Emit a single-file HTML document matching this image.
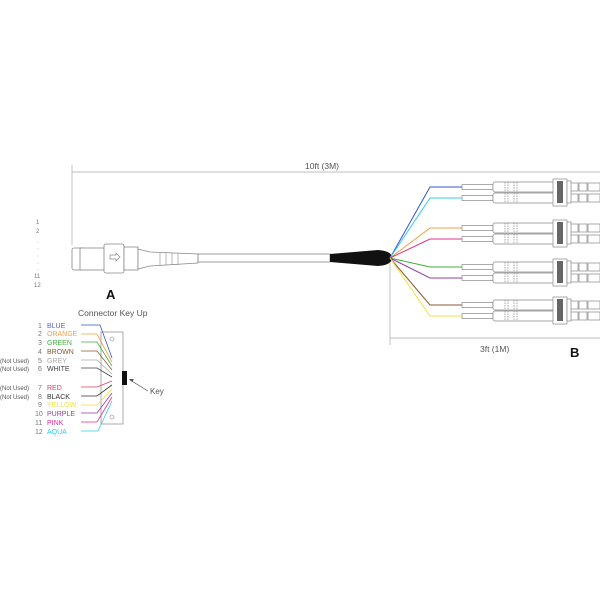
<!DOCTYPE html>
<html><head><style>body{margin:0;background:#fff}svg{display:block}text{font-family:"Liberation Sans",sans-serif}</style></head>
<body>
<svg width="600" height="600" viewBox="0 0 600 600" xmlns="http://www.w3.org/2000/svg">
<defs>
<g id="lc" fill="#fff" stroke="#888" stroke-width="0.7">
  <rect x="462" y="-2.5" width="31" height="5"/>
  <rect x="493" y="-5" width="62" height="10" rx="2"/>
  <line x1="505" y1="-5" x2="505" y2="5" stroke-dasharray="1.5,1"/>
  <line x1="508" y1="-5" x2="508" y2="5" stroke-dasharray="1.5,1"/>
  <line x1="514" y1="-5" x2="514" y2="5" stroke-dasharray="1.5,1"/>
  <line x1="517" y1="-5" x2="517" y2="5" stroke-dasharray="1.5,1"/>
  <rect x="570" y="-4" width="8" height="8"/>
  <rect x="579" y="-4" width="8" height="8"/>
  <rect x="588" y="-4" width="12" height="8"/>
</g>
<g id="pair">
  <use href="#lc" y="0"/>
  <use href="#lc" y="11"/>
  <rect x="553" y="-8" width="14" height="27" fill="#fff" stroke="#888" stroke-width="0.7"/>
  <rect x="557" y="-6" width="6" height="22" fill="#666"/>
  <rect x="567" y="-6" width="4" height="22" fill="#fff" stroke="#888" stroke-width="0.7"/>
</g>
</defs>
<!-- dimension 10ft -->
<line x1="72" y1="172" x2="600" y2="172" stroke="#aaa" stroke-width="0.7"/>
<line x1="72" y1="165" x2="72" y2="245" stroke="#aaa" stroke-width="0.7"/>
<text x="305" y="169" font-size="8.5" fill="#555">10ft (3M)</text>
<!-- connector A -->
<g fill="#fff" stroke="#888" stroke-width="0.8">
<rect x="72" y="248" width="12" height="22" rx="2"/>
<rect x="80" y="248" width="25" height="22"/>
<rect x="104" y="244" width="20" height="29" rx="2"/>
<rect x="124" y="247" width="14" height="23"/>
<path d="M138 249 L150 252 L198 254 L198 263 L150 266 L138 269Z"/>
<rect x="198" y="254" width="132" height="8"/>
</g>
<path d="M110 255 h6 v-2 l4 4 l-4 4 v-2 h-6z" fill="none" stroke="#888" stroke-width="0.7"/>
<g stroke="#888" stroke-width="0.6"><line x1="160" y1="253" x2="160" y2="265"/><line x1="166" y1="253" x2="166" y2="265"/><line x1="172" y1="253" x2="172" y2="265"/><line x1="178" y1="253" x2="178" y2="265"/></g>
<path d="M330 254 L378 250 Q392 251 392 258 Q392 265 378 266 L330 262Z" fill="#111"/>
<!-- fibers -->
<g fill="none" stroke-width="1">
<polyline points="390,258 430,187 462,187" stroke="#3355cc"/>
<polyline points="390,258 430,198 462,198" stroke="#33ccee"/>
<polyline points="390,258 430,228 462,228" stroke="#f0a040"/>
<polyline points="390,258 430,239 462,239" stroke="#e03090"/>
<polyline points="390,258 430,267 462,267" stroke="#40b040"/>
<polyline points="390,258 430,278 462,278" stroke="#9040a0"/>
<polyline points="390,258 430,305 462,305" stroke="#8a5a30"/>
<polyline points="390,258 430,316 462,316" stroke="#f0e040"/>
</g>
<use href="#pair" y="187"/>
<use href="#pair" y="228"/>
<use href="#pair" y="267"/>
<use href="#pair" y="305"/>
<!-- 3ft dim -->
<line x1="390" y1="262" x2="390" y2="345" stroke="#aaa" stroke-width="0.7"/>
<line x1="390" y1="338" x2="600" y2="338" stroke="#aaa" stroke-width="0.7"/>
<text x="480" y="352" font-size="8.5" fill="#555">3ft (1M)</text>
<text x="570" y="357" font-size="13" font-weight="bold" fill="#111">B</text>
<!-- left numbers -->
<g font-size="6" fill="#777"><text x="36" y="224">1</text><text x="36" y="233">2</text><text x="34" y="278">11</text><text x="34" y="287">12</text></g>
<g fill="#bbb"><circle cx="38" cy="242" r="0.5"/><circle cx="38" cy="249" r="0.5"/><circle cx="38" cy="256" r="0.5"/><circle cx="38" cy="263" r="0.5"/><circle cx="38" cy="270" r="0.5"/></g>
<text x="106" y="299" font-size="13" font-weight="bold" fill="#111">A</text>
<!-- key up -->
<text x="78" y="316" font-size="8.5" fill="#555">Connector Key Up</text>
<rect x="101" y="332" width="22" height="92" fill="#fff" stroke="#888" stroke-width="0.7"/>
<circle cx="112" cy="339" r="2" fill="none" stroke="#888" stroke-width="0.6"/>
<circle cx="112" cy="417" r="2" fill="none" stroke="#888" stroke-width="0.6"/>
<rect x="122" y="371" width="5" height="14" fill="#111"/>
<line x1="148" y1="391" x2="130" y2="380" stroke="#555" stroke-width="0.7"/>
<path d="M129 379 l5 0 l-2 3z" fill="#555"/>
<text x="150" y="394" font-size="8" fill="#555">Key</text>
<g font-size="7">
<text x="38" y="328" fill="#777">1</text><text x="47" y="328" fill="#5566cc">BLUE</text>
<text x="38" y="336" fill="#777">2</text><text x="47" y="336" fill="#f0a040">ORANGE</text>
<text x="38" y="345" fill="#777">3</text><text x="47" y="345" fill="#40b040">GREEN</text>
<text x="38" y="354" fill="#777">4</text><text x="47" y="354" fill="#8a5a30">BROWN</text>
<text x="0" y="363" fill="#555" font-size="6">(Not Used)</text><text x="38" y="363" fill="#777">5</text><text x="47" y="363" fill="#aaa">GREY</text>
<text x="0" y="371" fill="#555" font-size="6">(Not Used)</text><text x="38" y="371" fill="#777">6</text><text x="47" y="371" fill="#444">WHITE</text>
<text x="0" y="390" fill="#555" font-size="6">(Not Used)</text><text x="38" y="390" fill="#777">7</text><text x="47" y="390" fill="#e04060">RED</text>
<text x="0" y="399" fill="#555" font-size="6">(Not Used)</text><text x="38" y="399" fill="#777">8</text><text x="47" y="399" fill="#333">BLACK</text>
<text x="38" y="407" fill="#777">9</text><text x="47" y="407" fill="#f0e040">YELLOW</text>
<text x="35" y="416" fill="#777">10</text><text x="47" y="416" fill="#9040a0">PURPLE</text>
<text x="35" y="425" fill="#777">11</text><text x="47" y="425" fill="#e03090">PINK</text>
<text x="35" y="434" fill="#777">12</text><text x="47" y="434" fill="#33ccee">AQUA</text>
</g>
<g fill="none" stroke-width="0.8">
<polyline points="81,325 100,325 112,358" stroke="#3355cc"/>
<polyline points="81,334 97,334 112,362" stroke="#f0a040"/>
<polyline points="81,342 97,342 112,366" stroke="#40b040"/>
<polyline points="81,351 97,351 112,370" stroke="#8a5a30"/>
<polyline points="81,360 97,360 112,374" stroke="#aaa"/>
<polyline points="81,368 97,368 112,377" stroke="#444"/>
<polyline points="81,387 97,387 112,381" stroke="#e04060"/>
<polyline points="81,396 97,396 112,385" stroke="#333"/>
<polyline points="81,405 97,405 112,389" stroke="#f0e040"/>
<polyline points="81,413 97,413 112,393" stroke="#9040a0"/>
<polyline points="81,422 97,422 112,397" stroke="#e03090"/>
<polyline points="81,431 98,431 112,401" stroke="#33ccee"/>
</g>
</svg>
</body></html>
